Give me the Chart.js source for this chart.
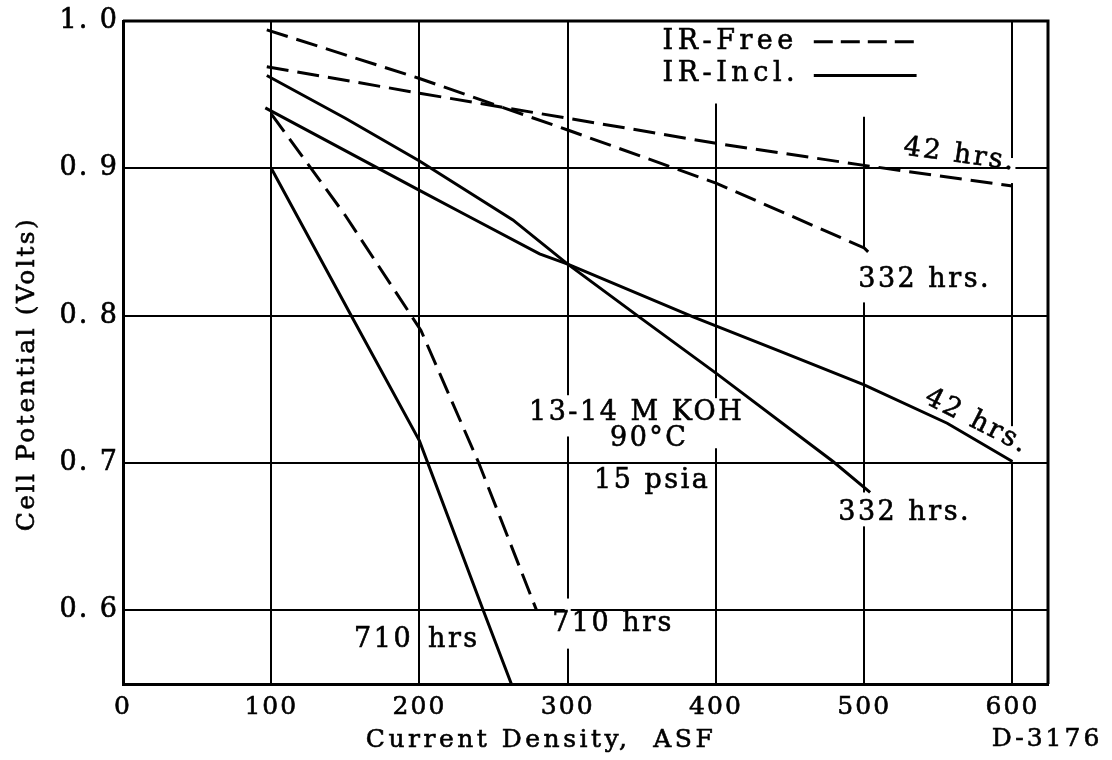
<!DOCTYPE html>
<html><head><meta charset="utf-8">
<script src="https://cdn.jsdelivr.net/npm/chart.js@4/dist/chart.umd.min.js"></script>
<style>html,body{margin:0;padding:0;background:#fff;} #wrap{width:1112px;height:760px;position:relative;}</style>
</head><body><div id="wrap"><canvas id="c"></canvas></div>
<script>
// ---------------- data ----------------
const xTicks = [0, 100, 200, 300, 400, 500, 600];
const xTickLabels = ['0', '100', '200', '300', '400', '500', '600'];
const yTicks = [0.6, 0.7, 0.8, 0.9, 1.0];
const yTickLabels = ['0. 6', '0. 7', '0. 8', '0. 9', '1. 0'];

// IR-Free (dashed)
const free42X  = [97, 200, 300, 400, 500, 600];
const free42Y  = [0.969, 0.951, 0.934, 0.917, 0.902, 0.888];
const free332X = [97, 200, 300, 400, 500, 503];
const free332Y = [0.994, 0.961, 0.926, 0.890, 0.846, 0.843];
const free710X = [100, 150, 201, 240, 279];
const free710Y = [0.937, 0.868, 0.790, 0.700, 0.600];

// IR-Incl. (solid)
const incl42X  = [96, 200, 232, 281, 300, 385, 443, 500, 556, 600];
const incl42Y  = [0.941, 0.885, 0.868, 0.842, 0.835, 0.799, 0.776, 0.753, 0.727, 0.701];
const incl332X = [97, 150, 200, 263, 300, 347, 400, 479, 504];
const incl332Y = [0.963, 0.934, 0.905, 0.865, 0.835, 0.800, 0.761, 0.701, 0.680];
const incl710X = [100, 154, 200, 243, 262];
const incl710Y = [0.900, 0.800, 0.715, 0.600, 0.550];

const legendNames = ['IR-Free', 'IR-Incl.'];

// ---------------- annotation layout (text and gaps) ----------------
const FONT = '"DejaVu Serif", "Liberation Serif", serif';
const notes = [
  {text: '42 hrs.',     x: 564.5, y: 0.909, rot: 8,  align: 'center'},
  {text: '332 hrs.',    x: 496,   y: 0.824, rot: 0,  align: 'left'},
  {text: '42 hrs.',     x: 576,   y: 0.728, rot: 27, align: 'center'},
  {text: '332 hrs.',    x: 482.5, y: 0.666, rot: 0,  align: 'left'},
  {text: '13-14 M KOH', x: 346.5, y: 0.734, rot: 0,  align: 'center'},
  {text: '90°C',        x: 355,   y: 0.716, rot: 0,  align: 'center'},
  {text: '15 psia',     x: 357,   y: 0.688, rot: 0,  align: 'center'},
  {text: '710',         x: 195.7, y: 0.580, rot: 0,  align: 'right'},
  {text: 'hrs',         x: 205.8, y: 0.580, rot: 0,  align: 'left'},
  {text: '710 hrs',     x: 289.5, y: 0.591, rot: 0,  align: 'left'}
];
// gaps in vertical grid lines (x value, from y0 to y1)
const gridGaps = [
  {x: 400, y0: 0.944, y1: 1.0},
  {x: 500, y0: 0.935, y1: 1.0},
  {x: 600, y0: 0.890, y1: 0.907},
  {x: 500, y0: 0.809, y1: 0.846},
  {x: 300, y0: 0.718, y1: 0.746},
  {x: 400, y0: 0.710, y1: 0.744},
  {x: 600, y0: 0.701, y1: 0.725},
  {x: 500, y0: 0.657, y1: 0.680},
  {x: 300, y0: 0.574, y1: 0.608}
];

const zip = (xs, ys) => xs.map((v, i) => ({x: v, y: ys[i]}));
const DASH = [22, 9];
function ds(label, xs, ys, dashed) {
  return {label, data: zip(xs, ys), borderColor: '#000', borderWidth: 3,
          borderDash: dashed ? DASH : [], pointRadius: 0, fill: false, tension: 0};
}

function heavyText(ctx, t, x, y) {
  ctx.fillText(t, x, y);
  ctx.strokeText(t, x, y);
}

const annot = {
  id: 'annot',
  beforeDraw(chart) { chart.ctx.letterSpacing = '2px'; },
  beforeDatasetsDraw(chart) {
    const {ctx, chartArea: a, scales: {x, y}} = chart;
    ctx.save();
    ctx.fillStyle = '#fff';
    gridGaps.forEach(g => {
      const px = x.getPixelForValue(g.x);
      const top = y.getPixelForValue(g.y1), bot = y.getPixelForValue(g.y0);
      ctx.fillRect(px - 3, top, 6, bot - top);
    });
    // frame top / right
    ctx.strokeStyle = '#000';
    ctx.lineWidth = 3;
    ctx.beginPath();
    ctx.moveTo(a.left, a.top); ctx.lineTo(a.right, a.top); ctx.lineTo(a.right, a.bottom);
    ctx.stroke();
    ctx.restore();
  },
  afterDatasetsDraw(chart) {
    const {ctx, scales: {x, y}} = chart;
    ctx.save();
    ctx.fillStyle = '#000';
    ctx.strokeStyle = '#000';
    ctx.lineWidth = 0.6;
    ctx.textBaseline = 'middle';
    ctx.font = '27px ' + FONT;
    ctx.letterSpacing = '2.5px';
    notes.forEach(n => {
      ctx.save();
      ctx.translate(x.getPixelForValue(n.x), y.getPixelForValue(n.y));
      ctx.rotate((n.rot || 0) * Math.PI / 180);
      ctx.textAlign = n.align;
      heavyText(ctx, n.text, 0, 0);
      ctx.restore();
    });
    // legend
    ctx.letterSpacing = '4.5px';
    ctx.textAlign = 'left';
    const lx = x.getPixelForValue(364);
    const l1 = x.getPixelForValue(466), l2 = x.getPixelForValue(534);
    const ly1 = y.getPixelForValue(0.986), ly2 = y.getPixelForValue(0.965);
    heavyText(ctx, legendNames[0], lx, ly1);
    heavyText(ctx, legendNames[1], lx, ly2 + 1);
    ctx.lineWidth = 3;
    ctx.setLineDash([19, 8]);
    ctx.beginPath(); ctx.moveTo(l1, ly1); ctx.lineTo(l2, ly1); ctx.stroke();
    ctx.setLineDash([]);
    ctx.beginPath(); ctx.moveTo(l1, ly2 + 3); ctx.lineTo(l2 + 2, ly2 + 3); ctx.stroke();
    // axis titles and figure id
    ctx.lineWidth = 0.6;
    ctx.font = '25px ' + FONT;
    ctx.letterSpacing = '3.5px';
    ctx.textAlign = 'center';
    heavyText(ctx, 'Current Density,  ASF', 541, 740);
    ctx.letterSpacing = '3px';
    heavyText(ctx, 'D-3176', 1047, 739);
    ctx.save();
    ctx.translate(27, 374);
    ctx.rotate(-Math.PI / 2);
    ctx.letterSpacing = '2.5px';
    heavyText(ctx, 'Cell Potential (Volts)', 0, 0);
    ctx.restore();
    ctx.restore();
  },
  afterDraw(chart) { chart.ctx.letterSpacing = '0px'; }
};

const tickFontFamily = 'DejaVu Serif, Liberation Serif, serif';
new Chart(document.getElementById('c'), {
  type: 'line',
  data: {
    datasets: [
      ds('IR-Free 42 hrs', free42X, free42Y, true),
      ds('IR-Free 332 hrs', free332X, free332Y, true),
      ds('IR-Free 710 hrs', free710X, free710Y, true),
      ds('IR-Incl. 42 hrs', incl42X, incl42Y, false),
      ds('IR-Incl. 332 hrs', incl332X, incl332Y, false),
      ds('IR-Incl. 710 hrs', incl710X, incl710Y, false)
    ]
  },
  options: {
    responsive: true, maintainAspectRatio: false, animation: false,
    layout: {padding: {left: 0, top: 21, right: 64, bottom: 0}},
    plugins: {legend: {display: false}, tooltip: {enabled: false}},
    scales: {
      x: {
        type: 'linear', min: 0, max: 624,
        afterBuildTicks: s => { s.ticks = xTicks.map(v => ({value: v})); },
        afterFit: s => { s.height = 76; },
        grid: {color: '#000', lineWidth: 2, drawTicks: false},
        border: {color: '#000', width: 3},
        ticks: {color: '#000', font: {family: tickFontFamily, size: 25}, padding: 8, maxRotation: 0, autoSkip: false,
                textStrokeColor: '#000', textStrokeWidth: 0.6,
                callback: v => xTickLabels[xTicks.indexOf(v)]}
      },
      y: {
        type: 'linear', min: 0.55, max: 1.0,
        afterBuildTicks: s => { s.ticks = yTicks.map(v => ({value: v})); },
        afterFit: s => { s.width = 123; },
        grid: {color: '#000', lineWidth: 2, drawTicks: false},
        border: {color: '#000', width: 3},
        ticks: {color: '#000', font: {family: tickFontFamily, size: 27}, padding: 4, autoSkip: false,
                textStrokeColor: '#000', textStrokeWidth: 0.6,
                callback: v => yTickLabels[yTicks.findIndex(t => Math.abs(t - v) < 1e-9)]}
      }
    }
  },
  plugins: [annot]
});
</script>
</body></html>
